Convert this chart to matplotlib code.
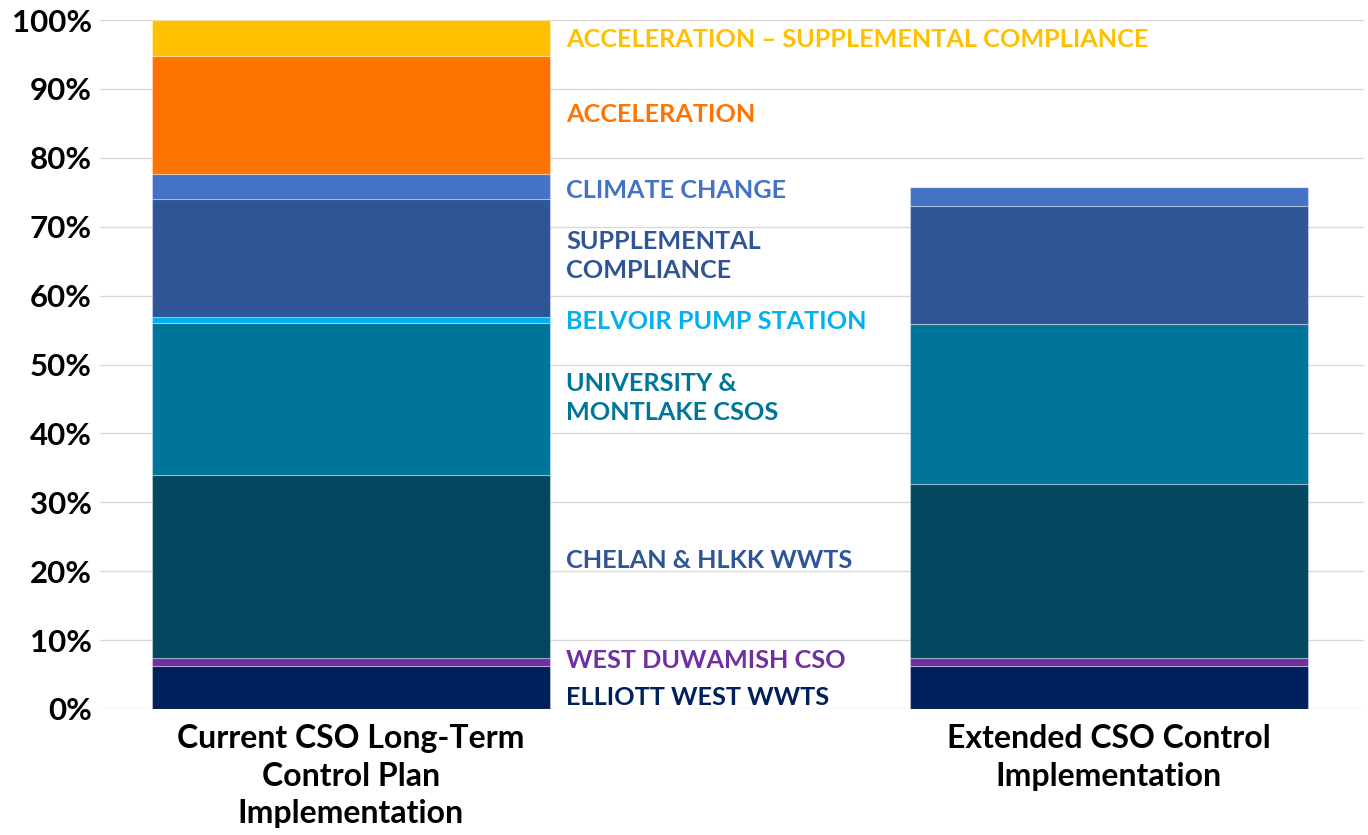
import matplotlib
matplotlib.use("Agg")
import matplotlib.pyplot as plt
import numpy as np

plt.rcParams['font.family'] = ['Lato', 'DejaVu Sans']

categories = ["Current CSO Long-Term\nControl Plan\nImplementation",
              "Extended CSO Control\nImplementation"]
series = ["ELLIOTT WEST WWTS", "WEST DUWAMISH CSO", "CHELAN & HLKK WWTS",
          "UNIVERSITY &\nMONTLAKE CSOS", "BELVOIR PUMP STATION",
          "SUPPLEMENTAL\nCOMPLIANCE", "CLIMATE CHANGE", "ACCELERATION",
          "ACCELERATION \u2013 SUPPLEMENTAL COMPLIANCE"]
current = [6.25, 1.15, 26.6, 22.0, 0.9, 17.1, 3.6, 17.2, 5.2]
extended = [6.25, 1.15, 25.3, 23.2, 0.0, 17.1, 2.8, 0.0, 0.0]
label_y = [1.6, 7.1, 21.5, 45.1, 56.3, 65.7, 75.3, 86.3, 97.2]
colors = ["#00205B", "#7030A0", "#05475E", "#00759A", "#00B0F0",
          "#2F5597", "#4472C4", "#FF7300", "#FFC000"]
label_colors = ["#00205B", "#7030A0", "#2F5597", "#00759A", "#00B0F0",
                "#2F5597", "#4472C4", "#FF7300", "#FFC000"]
yticks = [0, 10, 20, 30, 40, 50, 60, 70, 80, 90, 100]

fig = plt.figure(figsize=(13.68, 8.35), dpi=100)
ax = fig.add_axes([100/1368, 1-709/835, (1364-100)/1368, (709-20)/835])

x = np.arange(len(categories))
bottom = np.zeros(len(categories))
for i, name in enumerate(series):
    vals = np.array([current[i], extended[i]])
    ax.bar(x, vals, bottom=bottom, width=0.525, color=colors[i],
           edgecolor=(1, 1, 1, 0.35), linewidth=0.8, zorder=3)
    bottom += vals

for i, name in enumerate(series):
    ax.text(0.284, label_y[i], name, color=label_colors[i], fontsize=18.2,
            fontweight='bold', ha='left', va='center', linespacing=1.3,
            zorder=4)

ax.set_xlim(-0.331, 1.337)
ax.set_ylim(0, 100)
ax.set_yticks(yticks)
ax.set_yticklabels([f"{t}%" for t in yticks], fontsize=22.5, fontweight='bold')
ax.set_xticks(x)
ax.set_xticklabels(categories, fontsize=23, fontweight='bold', linespacing=1.35)
ax.tick_params(axis='both', length=0, pad=6)
ax.tick_params(axis='x', pad=11)
ax.grid(axis='y', color='#D9D9D9', linewidth=1.0, zorder=0)
for s in ax.spines.values():
    s.set_visible(False)

fig.savefig("out.png", dpi=100)
